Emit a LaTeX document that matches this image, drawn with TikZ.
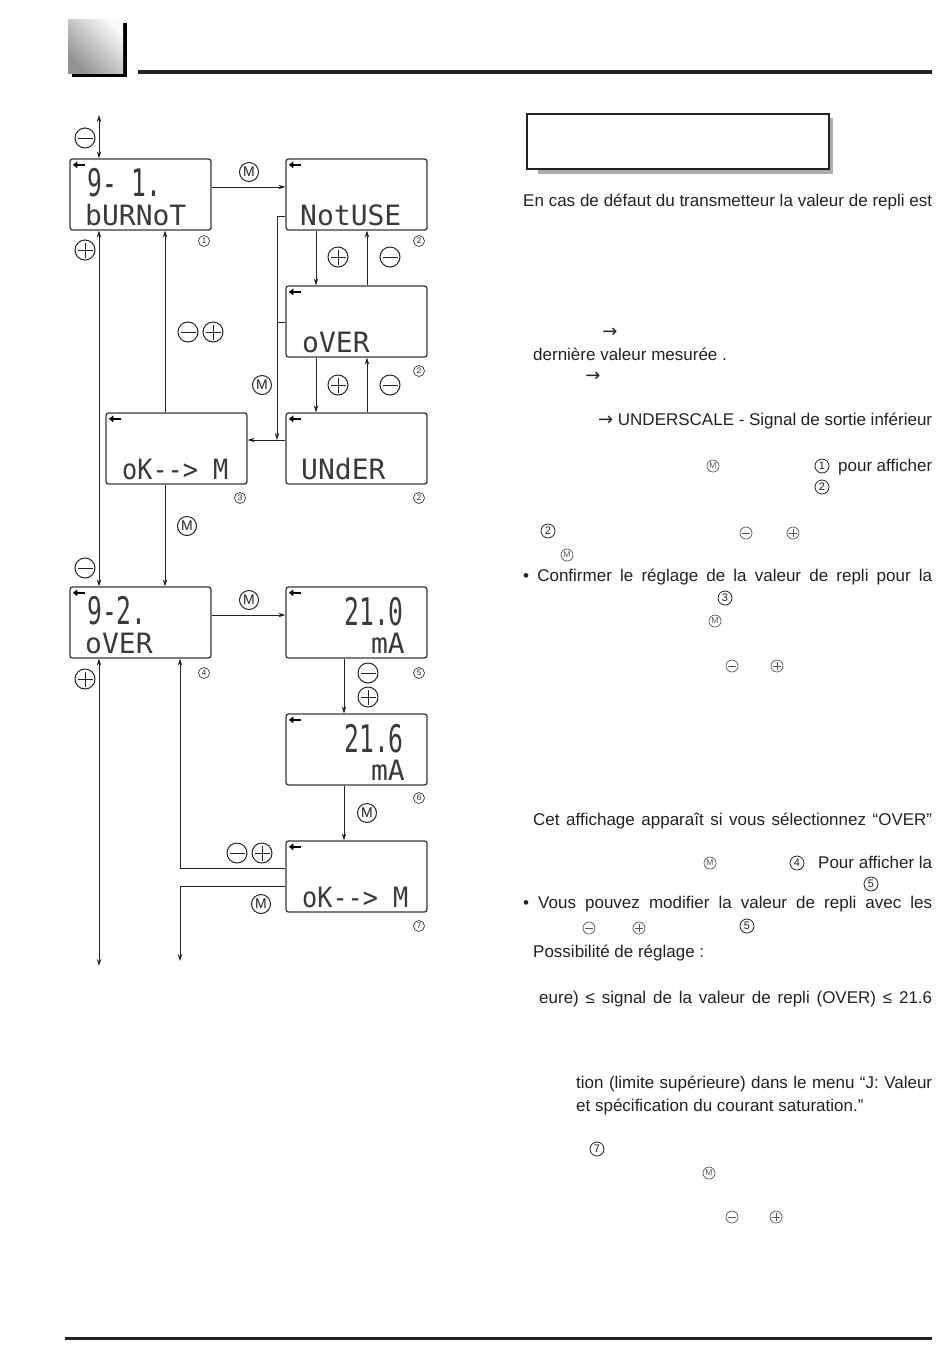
\documentclass[tikz,border=0pt]{standalone}
\usepackage{fontspec}
\usepackage{graphicx}
\setmainfont{Liberation Sans}
\newfontfamily\lcdfont{DejaVu Sans Mono}
\newfontfamily\symfont{DejaVu Sans}
\usetikzlibrary{arrows.meta,calc}
\definecolor{ink}{HTML}{222222}
\definecolor{lcdink}{HTML}{3A3A3A}
\definecolor{symgray}{HTML}{555555}
\newcommand\justln[2]{\makebox[#1][s]{#2}}
\begin{document}
\begin{tikzpicture}[x=1pt,y=-1pt,
  lcd/.style={rectangle, draw=lcdink, line width=1.3pt, rounded corners=2.5pt, minimum width=141pt, minimum height=71pt, inner sep=0pt, fill=white},
  lcdbig/.style={anchor=base west, inner sep=0pt, text=lcdink, font=\lcdfont\fontsize{38}{38}\selectfont},
  lcdsmall/.style={anchor=base west, inner sep=0pt, text=lcdink, font=\lcdfont\fontsize{28}{28}\selectfont},
  lcdtag/.style={line width=2.6pt, black, -{Triangle[length=4.5pt,width=6.5pt]}},
  arr/.style={draw=ink, line width=0.9pt, -{Stealth[length=7pt,width=4.5pt]}},
  darr/.style={draw=ink, line width=0.9pt, {Stealth[length=7pt,width=4.5pt]}-{Stealth[length=7pt,width=4.5pt]}},
  ln/.style={draw=ink, line width=0.9pt},
  bsym/.style={circle, draw=ink, line width=1pt, inner sep=0pt, minimum size=20pt},
  bminus/.style={bsym, path picture={\draw[ink,line width=1pt] ([xshift=2.5pt]path picture bounding box.west) -- ([xshift=-2.5pt]path picture bounding box.east);}},
  bplus/.style={bsym, path picture={\draw[ink,line width=1pt] ([xshift=2.5pt]path picture bounding box.west) -- ([xshift=-2.5pt]path picture bounding box.east) ([yshift=-2.5pt]path picture bounding box.north) -- ([yshift=2.5pt]path picture bounding box.south);}},
  bm/.style={bsym, minimum size=19pt, text=ink, font=\fontsize{14}{14}\selectfont},
  bnum/.style={circle, draw=ink, line width=0.6pt, inner sep=0pt, minimum size=11pt, text=ink, font=\fontsize{8}{8}\selectfont},
  tsym/.style={circle, draw=symgray, line width=0.7pt, inner sep=0pt, minimum size=12pt},
  tminus/.style={tsym, path picture={\draw[symgray,line width=0.7pt] ([xshift=1.8pt]path picture bounding box.west) -- ([xshift=-1.8pt]path picture bounding box.east);}},
  tplus/.style={tsym, path picture={\draw[symgray,line width=0.7pt] ([xshift=1.8pt]path picture bounding box.west) -- ([xshift=-1.8pt]path picture bounding box.east) ([yshift=-1.8pt]path picture bounding box.north) -- ([yshift=1.8pt]path picture bounding box.south);}},
  tm/.style={tsym, text=symgray, font=\fontsize{8.5}{8.5}\selectfont},
  tnum/.style={circle, draw=ink, line width=0.8pt, inner sep=0pt, minimum size=14pt, text=ink, font=\fontsize{11}{11}\selectfont},
  rt/.style={anchor=base west, inner sep=0pt, text=ink, font=\fontsize{17}{17}\selectfont},
  rarrow/.style={inner sep=0pt, text=ink, font=\symfont\fontsize{18}{18}\selectfont}
]
\useasboundingbox (0,0) rectangle (950,1369);
\fill[white] (0,0) rectangle (950,1369);

% header
\fill[black] (72,23) rectangle (127,77);
\shade[top color=gray!5, bottom color=gray!85, shading angle=-45] (68,19) rectangle (123,73);
\draw[ink, line width=3.2pt] (138,72) -- (932,72);
\draw[ink, line width=3pt] (65,1338) -- (932,1338);

% LCD boxes
\node[lcd] (b1) at (140.5,194.5) {};
\node[lcd] (b2) at (356.5,194.5) {};
\node[lcd] (b2o) at (356.5,321.5) {};
\node[lcd] (b2u) at (356.5,448.5) {};
\node[lcd] (b3) at (176.5,448.5) {};
\node[lcd] (b4) at (140.5,622.5) {};
\node[lcd] (b5) at (356.5,622.5) {};
\node[lcd] (b6) at (356.5,749.5) {};
\node[lcd] (b7) at (356.5,876.5) {};
\foreach \b in {b1,b2,b2o,b2u,b3,b4,b5,b6,b7}
  \draw[lcdtag] ([xshift=16pt,yshift=-6.5pt]\b.north west) -- ([xshift=3.5pt,yshift=-6.5pt]\b.north west);

% LCD texts
\node[lcdbig] (t1a) at (87,196) {\scalebox{0.65}[1]{9- 1.}};
\node[lcdsmall] (t1b) at (85,225) {bURNoT};
\node[lcdsmall] (t2) at (300,225) {NotUSE};
\node[lcdsmall] (t2o) at (302,352) {oVER};
\node[lcdsmall] (t2u) at (301,479) {UNdER};
\node[lcdsmall] (t3) at (122,479) {\scalebox{0.9}[1]{oK--> M}};
\node[lcdbig] (t4a) at (87,624) {\scalebox{0.65}[1]{9-2.}};
\node[lcdsmall] (t4b) at (85,653) {oVER};
\node[lcdbig, anchor=base east] (t5a) at (404,625) {\scalebox{0.65}[1]{21.0}};
\node[lcdsmall, anchor=base east] (t5b) at (405,653) {mA};
\node[lcdbig, anchor=base east] (t6a) at (404,752) {\scalebox{0.65}[1]{21.6}};
\node[lcdsmall, anchor=base east] (t6b) at (405,780) {mA};
\node[lcdsmall] (t7) at (302,907) {\scalebox{0.9}[1]{oK--> M}};

% helper coordinates
\coordinate (xA) at (99,0);
\coordinate (xB) at (165,0);
\coordinate (xC) at (180,0);
\coordinate (xD) at (277,0);
\coordinate (xE) at (316,0);
\coordinate (xF) at (367,0);
\coordinate (xG) at (344,0);
\coordinate (yH) at (0,187);
\coordinate (yI) at (0,216);
\coordinate (yJ) at (0,322);
\coordinate (yK) at (0,440);
\coordinate (yL) at (0,615);
\coordinate (yM) at (0,868);
\coordinate (yN) at (0,886);
\coordinate (ctop) at (99,115);
\coordinate (cbotA) at (99,966);
\coordinate (cbotB) at (180,961);
\coordinate (cjn) at (277,440);

% connectors
\draw[darr] (ctop) -- (xA |- b1.north);
\draw[darr] (xA |- b1.south) -- (xA |- b4.north);
\draw[darr] (xA |- b4.south) -- (cbotA);
\draw[arr] (xB |- b3.north) -- (xB |- b1.south);
\draw[arr] (xB |- b3.south) -- (xB |- b4.north);
\draw[arr] (b1.east |- yH) -- (b2.west |- yH);
\draw[arr] (b2.west |- yI) -- (xD |- yI) -- (cjn);
\draw[ln] (b2o.west |- yJ) -- (xD |- yJ);
\draw[arr] (b2u.west |- yK) -- (b3.east |- yK);
\draw[arr] (xE |- b2.south) -- (xE |- b2o.north);
\draw[arr] (xF |- b2o.north) -- (xF |- b2.south);
\draw[arr] (xE |- b2o.south) -- (xE |- b2u.north);
\draw[arr] (xF |- b2u.north) -- (xF |- b2o.south);
\draw[arr] (b4.east |- yL) -- (b5.west |- yL);
\draw[arr] (xG |- b5.south) -- (xG |- b6.north);
\draw[arr] (xG |- b6.south) -- (xG |- b7.north);
\draw[arr] (b7.west |- yM) -- (xC |- yM) -- (xC |- b4.south);
\draw[arr] (b7.west |- yN) -- (xC |- yN) -- (cbotB);

% key symbols on diagram
\node[bminus] (s1) at (85,138) {};
\node[bplus] (s2) at (85,250) {};
\node[bminus] (s3) at (188,332) {};
\node[bplus] (s4) at (213,332) {};
\node[bm] (s5) at (249,172) {M};
\node[bplus] (s6) at (338,257) {};
\node[bminus] (s7) at (390,257) {};
\node[bm] (s8) at (262,385) {M};
\node[bplus] (s9) at (338,385) {};
\node[bminus] (s10) at (390,385) {};
\node[bm] (s11) at (187,526) {M};
\node[bminus] (s12) at (85,568) {};
\node[bplus] (s13) at (85,679) {};
\node[bm] (s14) at (249,600) {M};
\node[bminus] (s15) at (368,673) {};
\node[bplus] (s16) at (368,697) {};
\node[bm] (s17) at (367,813) {M};
\node[bminus] (s18) at (237,853) {};
\node[bplus] (s19) at (262,853) {};
\node[bm] (s20) at (261,904) {M};

% step numbers
\node[bnum] (n1) at (204,241) {1};
\node[bnum] (n2) at (419,241) {2};
\node[bnum] (n3) at (419,371) {2};
\node[bnum] (n4) at (419,498) {2};
\node[bnum] (n5) at (240,498) {3};
\node[bnum] (n6) at (204,673) {4};
\node[bnum] (n7) at (419,673) {5};
\node[bnum] (n8) at (419,798) {6};
\node[bnum] (n9) at (419,926) {7};

% right column: title box
\fill[gray!65] (538,118) rectangle (833,174);
\draw[ink, fill=white, line width=1.2pt] (527,114) rectangle (829,169);

% right column texts
\node[rt] (r1) at (523,206) {\justln{409pt}{En cas de défaut du transmetteur la valeur de repli est}};
\node[rarrow] (r2) at (610,333) {→};
\node[rt] (r3) at (533,360) {dernière valeur mesurée .};
\node[rarrow] (r4) at (593,377) {→};
\node[rt] (r5) at (598,425) {\justln{334pt}{{\symfont\fontsize{18}{18}\selectfont →} UNDERSCALE - Signal de sortie inférieur}};
\node[rt] (r6) at (838,471) {\justln{94pt}{pour afficher}};
\node[rt] (r10) at (523,581) {\justln{409pt}{• Confirmer le réglage de la valeur de repli pour la}};
\node[rt] (r14) at (533,825) {\justln{399pt}{Cet affichage apparaît si vous sélectionnez “OVER”}};
\node[rt] (r15) at (818,868) {\justln{114pt}{Pour afficher la}};
\node[rt] (r17) at (523,908) {\justln{409pt}{• Vous pouvez modifier la valeur de repli avec les}};
\node[rt] (r19) at (533,957) {Possibilité de réglage :};
\node[rt] (r20) at (539,1003) {\justln{393pt}{eure) ≤ signal de la valeur de repli (OVER) ≤ 21.6}};
\node[rt] (r21) at (576,1088) {\justln{356pt}{tion (limite supérieure) dans le menu “J: Valeur}};
\node[rt] (r22) at (576,1111) {et spécification du courant saturation.”};

% right column symbols
\node[tm] (q1) at (713,466) {M};
\node[tnum] (q2) at (822,466) {1};
\node[tnum] (q3) at (822,487) {2};
\node[tnum] (q4) at (548,531) {2};
\node[tminus] (q5) at (746,533) {};
\node[tplus] (q6) at (793,533) {};
\node[tm] (q7) at (567,555) {M};
\node[tnum] (q8) at (725,598) {3};
\node[tm] (q9) at (715,621) {M};
\node[tminus] (q10) at (732,666) {};
\node[tplus] (q11) at (777,666) {};
\node[tm] (q12) at (710,863) {M};
\node[tnum] (q13) at (797,863) {4};
\node[tnum] (q14) at (871,884) {5};
\node[tminus] (q15) at (589,928) {};
\node[tplus] (q16) at (639,928) {};
\node[tnum] (q17) at (747,926) {5};
\node[tnum] (q18) at (597,1149) {7};
\node[tm] (q19) at (709,1173) {M};
\node[tminus] (q20) at (732,1217) {};
\node[tplus] (q21) at (776,1217) {};
\end{tikzpicture}
\end{document}
